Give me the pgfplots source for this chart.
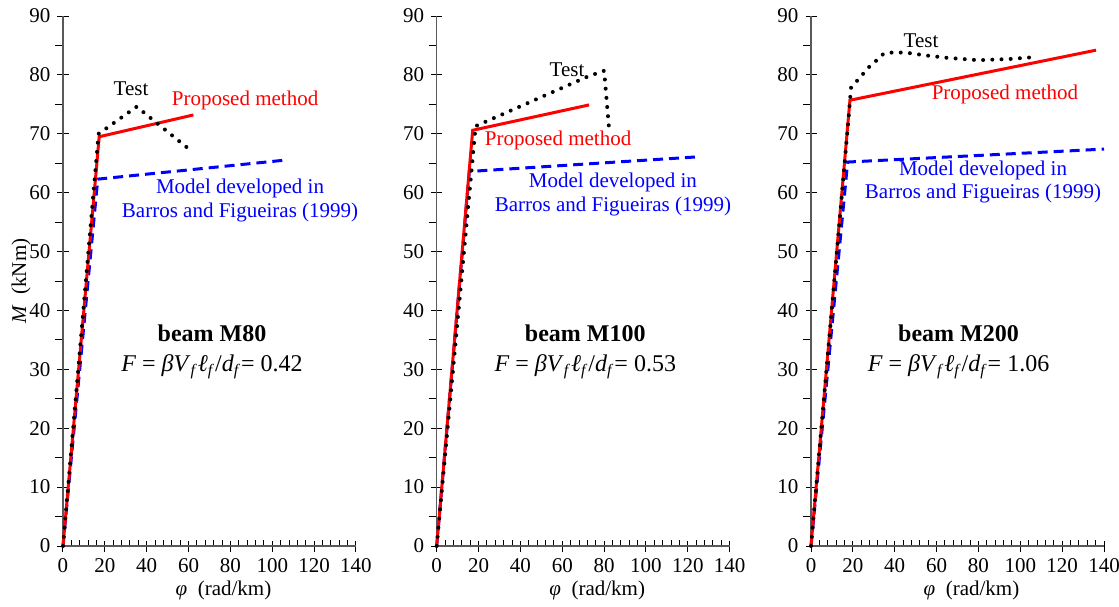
\documentclass[border=0pt]{standalone}
\usepackage{pgfplots}
\pgfplotsset{compat=1.18}
\usepackage{fontspec}
\setmainfont{Liberation Serif}
\newcommand{\fs}{\fontsize{10.5}{12.5}\selectfont}
\newcommand{\fb}{\fontsize{12}{14}\selectfont}
\newcommand{\formula}[1]{\textit{F} = \textit{βV}\textsubscript{\textit{f}}\textit{ℓ}\textsubscript{\textit{f}}/\textit{d}\textsubscript{\textit{f}}= #1}
\pgfplotsset{
  panel/.style={
    scale only axis, width=146.5pt, height=265pt,
    xmin=0,xmax=140,ymin=0,ymax=90,
    axis x line*=bottom, axis y line*=left,
    axis line style={gray!70!black, line width=0.6pt},
    xtick={0,20,...,140}, ytick={0,10,...,90},
    minor x tick num=4, minor y tick num=1,
    tick align=center, major tick length=5.5pt, minor tick length=4pt,
    tick style={black, line width=0.5pt},
    minor y tick style={xshift=-2pt},
    minor x tick style={yshift=1.5pt, /pgfplots/minor tick length=3pt},
    tick label style={font=\fs},
    /pgf/number format/assume math mode=true,
    xlabel={\textit{φ}\ \ (rad/km)},
    xlabel style={font=\fs, xshift=7pt, yshift=3pt},
    clip=false,
    anchor=south west,
  },
  blueline/.style={blue, line width=1.5pt, dash pattern=on 5pt off 3pt},
  redline/.style={red, line width=1.5pt},
  testline/.style={black, line width=2pt, dash pattern=on 0pt off 4.6pt, line cap=round},
}
\begin{document}
\begin{tikzpicture}
% Panel 1
\begin{axis}[panel, at={(31.5pt,30pt)},
  ylabel={\textit{M}\ \ (kNm)}, ylabel style={font=\fs, yshift=-7.5pt}]
\addplot[blueline] coordinates {(0,0) (16.6,62.3) (105.3,65.5)};
\addplot[redline] coordinates {(0,0) (17.3,69.5) (62.3,73.2)};
\addplot[testline] coordinates {(0,0) (17,70) (35.2,74.6) (60.2,67.4)};
\node[font=\fs] at (axis cs:32.5,77.6) {Test};
\node[font=\fs, red] at (axis cs:87,75.6) {Proposed method};
\node[font=\fs, blue] at (axis cs:84.6,60.8) {Model developed in};
\node[font=\fs, blue] at (axis cs:84.6,56.6) {Barros and Figueiras (1999)};
\node[font=\fb\bfseries] at (axis cs:71.2,36.1) {beam M80};
\node[font=\fb] at (axis cs:71.2,30.4) {\formula{0.42}};
\end{axis}
% Panel 2
\begin{axis}[panel, at={(218.35pt,30pt)}, yticklabel={}]
\addplot[blueline] coordinates {(0,0) (15.6,63.6) (125.3,66.1)};
\addplot[redline] coordinates {(0,0) (17.2,70.6) (72.8,74.9)};
\addplot[testline] coordinates {(0,0) (18.6,71.3) (72,79.7) (80,80.7) (82.3,71.1)};
\node[font=\fs] at (axis cs:62.3,80.8) {Test};
\node[font=\fs, red] at (axis cs:58,68.8) {Proposed method};
\node[font=\fs, blue] at (axis cs:84.2,61.8) {Model developed in};
\node[font=\fs, blue] at (axis cs:84.2,57.6) {Barros and Figueiras (1999)};
\node[font=\fb\bfseries] at (axis cs:71,36.1) {beam M100};
\node[font=\fb] at (axis cs:71,30.4) {\formula{0.53}};
\end{axis}
% Panel 3
\begin{axis}[panel, at={(405.5pt,30pt)}, yticklabel={}]
\addplot[blueline] coordinates {(0,0) (17.5,65.2) (140,67.4)};
\addplot[redline] coordinates {(0,0) (18.6,75.7) (136.2,84.2)};
\addplot[testline] coordinates {(0,0) (17.8,72) (19.1,77.8) (22,79) (24.7,80.1) (27.9,81.4) (31.1,82.4) (34.7,83.6) (38.7,83.8) (45,83.8) (55,83.3) (65,82.9) (80,82.5) (95,82.7) (106,83)};
\node[font=\fs] at (axis cs:52.6,85.8) {Test};
\node[font=\fs, red] at (axis cs:92.7,76.6) {Proposed method};
\node[font=\fs, blue] at (axis cs:82.2,63.8) {Model developed in};
\node[font=\fs, blue] at (axis cs:82.2,59.8) {Barros and Figueiras (1999)};
\node[font=\fb\bfseries] at (axis cs:70.5,36.1) {beam M200};
\node[font=\fb] at (axis cs:70.5,30.4) {\formula{1.06}};
\end{axis}
\pgfresetboundingbox
\path (0,0) rectangle (559.5pt,303pt);
\end{tikzpicture}
\end{document}
